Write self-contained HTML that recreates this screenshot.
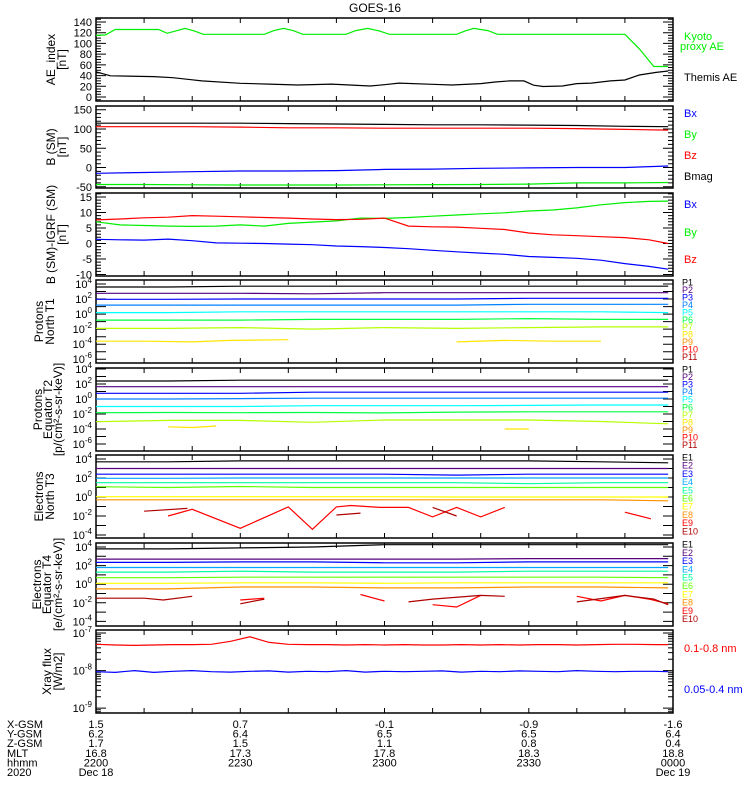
<!DOCTYPE html>
<html>
<head>
<meta charset="utf-8">
<title>GOES-16</title>
<style>
  html,body{margin:0;padding:0;background:#fff;}
  svg{display:block;font-family:"Liberation Sans",sans-serif;}
</style>
</head>
<body>
<svg id="chart" width="750" height="800" viewBox="0 0 750 800" xmlns="http://www.w3.org/2000/svg">
  <rect x="0" y="0" width="750" height="800" fill="#fff"/>
  <text x="375" y="12" font-size="12" text-anchor="middle">GOES-16</text>
  <g id="panels"></g>
</svg>
<script>
// ===== DATA (times in minutes after 2200 UT, Dec 18 2020) =====
// Panel 1: AE index [nT]
const kyotoT = [0,2,4,13,14.8,16.5,18.5,20.5,22.3,35,37,39,41,43,52,54,56.5,59,61,75,77,78.6,81.5,83.5,110,113,116,119];
const kyotoV = [115,116,126,126,119,123,128,123,117,117,124,128,124,117,117,124,128,123,117,117,124,128,124,117,117,90,57,57];
const themisT = [0,3,12,16,20,22,30,36,42,49,57,60,63,70,74,80,83,86,89,91,93,97,100,103,107,110,113,116.5,119];
const themisV = [47,39.5,38,36,32,30,25.5,24,22.4,24,20.5,23,26,23.7,22.4,25,28,30,30,22,19.5,20.5,25,26,30,31.7,41,46,48.5];
// Panel 2: B (SM) [nT]
const bT = [0,10,20,30,40,50,60,70,80,90,100,110,119];
const bxV = [-15,-13,-11,-9,-9,-8,-5,-4,-2,-1,0,0,4];
const byV = [-44,-44,-45,-45.5,-45.5,-45.5,-45,-44.5,-44,-43,-40,-40,-39];
const bzV = [106,106,106,105,103,103,102,102,102,102,101,99,97];
const bmagV = [115,115,115,115,114,113,112,111,111,110,109,107,106];
// Panel 3: B (SM) - IGRF (SM) [nT]
const dT = [0,5,10,15,20,25,30,35,40,45,50,55,60,65,70,75,80,85,90,95,100,105,110,115,119];
const dBxV = [1.35,1.2,1.1,1.4,0.9,0.2,0.1,0,-0.2,-0.4,-0.8,-1.0,-1.3,-1.7,-2.2,-2.7,-3.1,-3.5,-4.2,-4.5,-4.8,-5.4,-6.5,-7.4,-8.3];
const dByV = [7.0,6.0,5.8,5.6,5.5,5.6,6.0,5.6,6.5,6.9,7.3,8.2,8.1,8.4,8.8,9.2,9.6,9.9,10.5,10.8,11.5,12.5,13.2,13.6,13.7];
const dBzV = [7.6,7.9,8.3,8.5,9.0,8.8,8.6,8.4,8.2,7.9,7.7,7.8,8.2,5.6,5.4,5.3,4.9,4.5,3.4,2.8,2.5,2.2,1.9,1.2,0.0];
// Particle panels: log10 of flux
const fT = [0,15,30,45,60,75,90,105,119];
// Panel 4: Protons North T1
const t1P1 = [3.6,3.6,3.7,3.7,3.7,3.7,3.7,3.7,3.7];
const t1P2 = [2.76,2.76,2.76,2.7,2.84,2.84,2.84,2.84,2.84];
const t1P3 = [1.96,1.96,2.0,2.0,2.0,2.0,2.1,2.1,2.1];
const t1P4 = [1.2,1.2,1.2,1.2,1.2,1.2,1.3,1.3,1.3];
const t1P5 = [0.2,0.2,0.3,0.3,0.3,0.3,0.3,0.3,0.2];
const t1P6 = [-0.8,-0.8,-0.8,-0.7,-0.7,-0.7,-0.6,-0.7,-0.7];
const t1P7 = [-1.9,-1.9,-1.8,-2.0,-1.8,-1.9,-1.8,-1.7,-1.7];
const t1P8T = [0,10,20,28,40,41,75,85,95,105,106];
const t1P8 = [-3.6,-3.6,-3.7,-3.5,-3.4,null,-3.7,-3.5,-3.6,-3.6,null];
// Panel 5: Protons Equator T2
const t2P1 = [2.4,2.4,2.5,2.5,2.5,2.5,2.5,2.5,2.5];
const t2P2 = [1.64,1.64,1.64,1.64,1.64,1.64,1.64,1.64,1.64];
const t2P3 = [0.76,0.76,0.76,0.9,0.9,0.9,0.9,0.9,0.9];
const t2P4 = [0,0,0.05,0.1,0.1,0.1,0.1,0.1,0.1];
const t2P5 = [-1.0,-1.0,-1.0,-0.9,-0.9,-0.9,-0.85,-0.8,-0.8];
const t2P6 = [-1.83,-1.8,-1.83,-1.8,-1.85,-1.75,-1.7,-1.7,-1.7];
const t2P7 = [-3.03,-2.85,-2.85,-3.1,-2.8,-2.8,-2.8,-3.0,-3.3];
const t2P8T = [15,20,25,26,85,90];
const t2P8 = [-3.7,-3.8,-3.6,null,-4.0,-4.0];
// Panel 6: Electrons North T3
const t3E1 = [3.7,3.7,3.8,3.8,3.8,3.8,3.8,3.7,3.6];
const t3E2 = [3.0,3.0,3.0,3.0,3.0,3.0,3.0,3.0,3.0];
const t3E3 = [2.4,2.4,2.4,2.4,2.4,2.3,2.4,2.4,2.4];
const t3E4 = [1.97,1.97,2.0,2.0,2.0,2.0,2.0,2.0,2.0];
const t3E5 = [1.5,1.5,1.5,1.5,1.5,1.5,1.4,1.5,1.5];
const t3E6 = [1.08,1.0,1.1,1.0,1.0,1.0,1.0,1.0,1.0];
const t3E7 = [0.03,0.03,0.03,0.03,0.03,0.0,0.0,0.0,0.0];
const t3E8 = [-0.3,-0.3,-0.3,-0.3,-0.3,-0.3,-0.3,-0.3,-0.4];
const t3E9T = [15,20,30,40,45,50,53,59,65,70,75,80,85,100,110,115.4];
const t3E9 = [-2.0,-1.3,-3.3,-1.05,-3.4,-1.05,-0.9,-1.1,-1.1,-2.1,-1.1,-2.1,-1.1,null,-1.6,-2.3];
const t3E10T = [10,19,25,50,55,60,70,75];
const t3E10 = [-1.5,-1.2,null,-1.9,-1.7,null,-1.1,-2.0];
// Panel 7: Electrons Equator T4
const t4E1 = [3.8,3.8,3.9,4.0,4.25,4.25,4.25,4.25,4.25];
const t4E2 = [2.7,2.7,2.7,2.7,2.7,2.7,2.75,2.75,2.75];
const t4E3 = [2.35,2.35,2.4,2.4,2.3,2.3,2.4,2.4,2.4];
const t4E4 = [1.8,1.8,1.8,1.8,1.8,1.8,1.8,1.8,1.8];
const t4E5 = [1.3,1.3,1.4,1.3,1.3,1.3,1.4,1.4,1.4];
const t4E6 = [0.7,0.7,0.75,0.75,0.75,0.75,0.75,0.75,0.7];
const t4E7 = [0.1,0.1,0.15,0.15,0.1,0.15,0.15,0.15,0.15];
const t4E8 = [-0.5,-0.5,-0.3,-0.3,-0.4,-0.4,-0.3,-0.3,-0.4];
const t4E9T = [30,35,36,55,60,61,70,75,80,81,100,105,110,115,119];
const t4E9 = [-1.7,-1.5,null,-1.1,-1.8,null,-2.2,-2.45,-1.2,null,-1.3,-1.8,-1.2,-1.6,-2.1];
const t4E10T = [0,10,14,20,21,30,35,36,65,70,80,85,86,100,110,116,119];
const t4E10 = [-1.5,-1.5,-1.7,-1.3,null,-2.1,-1.6,null,-1.9,-1.6,-1.2,-1.3,null,-1.9,-1.2,-1.6,-2.2];
// Panel 8: X-ray flux, log10 W/m2
const xT = [0,4,8,12,16,20,24,28,32,36,40,44,48,52,56,60,64,68,72,76,80,84,88,92,96,100,104,108,112,116,119];
const xLongV = [-7.3,-7.32,-7.33,-7.32,-7.31,-7.31,-7.3,-7.22,-7.1,-7.25,-7.3,-7.31,-7.31,-7.32,-7.31,-7.32,-7.31,-7.32,-7.32,-7.31,-7.32,-7.31,-7.32,-7.31,-7.31,-7.32,-7.31,-7.3,-7.3,-7.31,-7.31];
const xShortV = [-8.03,-8.05,-8.0,-8.05,-8.02,-8.0,-8.03,-8.04,-8.02,-8.01,-8.04,-8.02,-8.03,-8.0,-8.04,-8.02,-8.03,-8.02,-8.01,-8.04,-8.02,-8.03,-8.01,-8.02,-8.03,-8.0,-8.02,-8.03,-8.02,-8.02,-8.03];
// Bottom annotation rows
const rowNames = ["X-GSM","Y-GSM","Z-GSM","MLT","hhmm","2020"];
const rowTimes = [0,30,60,90,120];
const xgsmVals = ["1.5","0.7","-0.1","-0.9","-1.6"];
const ygsmVals = ["6.2","6.4","6.5","6.5","6.4"];
const zgsmVals = ["1.7","1.5","1.1","0.8","0.4"];
const mltVals = ["16.8","17.3","17.8","18.3","18.8"];
const hhmmVals = ["2200","2230","2300","2330","0000"];
const dateVals = ["Dec 18","","","","Dec 19"];

// ===== LAYOUT =====
const NS = "http://www.w3.org/2000/svg";
const X0 = 96, X1 = 673, TMIN = 0, TMAX = 120;
function xs(t){ return X0 + (t - TMIN) / (TMAX - TMIN) * (X1 - X0); }
const root = document.getElementById('panels');
function mk(tag, attrs, parent){
  const e = document.createElementNS(NS, tag);
  for (const k in attrs) e.setAttribute(k, attrs[k]);
  (parent || root).appendChild(e);
  return e;
}
const panels = [
  {top:18, bot:101, vmin:-7.5, vmax:147.5, log:false, major:20, minor:5, labels:[0,20,40,60,80,100,120,140], titles:["AE_index","[nT]"], tx:[51,62]},
  {top:106, bot:188, vmin:-53.2, vmax:159.7, log:false, major:50, minor:10, labels:[-50,0,50,100,150], titles:["B (SM)","[nT]"], tx:[51,62]},
  {top:193, bot:276, vmin:-10.5, vmax:16.3, log:false, major:5, minor:1, labels:[-10,-5,0,5,10,15], titles:["B (SM)-IGRF (SM)","[nT]"], tx:[51,62]},
  {top:280, bot:363, vmin:-6.5, vmax:4.53, log:true, labels:[4,2,0,-2,-4,-6], titles:["Protons","North T1"], tx:[39,50]},
  {top:368, bot:451, vmin:-6.93, vmax:4.13, log:true, labels:[4,2,0,-2,-4,-6], titles:["Protons","Equator T2","[p/(cm\u00b2-s-sr-keV)]"], tx:[38,48,58]},
  {top:455, bot:538, vmin:-4.32, vmax:4.42, log:true, labels:[4,2,0,-2,-4], titles:["Electrons","North T3"], tx:[39,50]},
  {top:543, bot:626, vmin:-4.49, vmax:4.43, log:true, labels:[4,2,0,-2,-4], titles:["Electrons","Equator T4","[e/(cm\u00b2-s-sr-keV)]"], tx:[37,47,58]},
  {top:630, bot:713, vmin:-9.13, vmax:-6.92, log:true, minorLog:true, labels:[-7,-8,-9], titles:["Xray flux","[W/m2]"], tx:[47,58]}
];
function ys(p, v){ return p.bot - (v - p.vmin) / (p.vmax - p.vmin) * (p.bot - p.top); }

function drawSeries(pi, tArr, vArr, color, name){
  const p = panels[pi];
  let d = "", pen = false;
  for (let i = 0; i < tArr.length; i++){
    const v = vArr[i];
    if (v === null || v === undefined){ pen = false; continue; }
    const x = xs(tArr[i]).toFixed(1), y = Math.max(p.top, Math.min(p.bot, ys(p, v))).toFixed(1);
    d += (pen ? "L" : "M") + x + " " + y + " ";
    pen = true;
  }
  const path = mk('path', {d:d, fill:"none", stroke:color, "stroke-width":"1.2"});
  
  
}

// ===== AXES =====
panels.forEach((p, pi) => {
  const g = mk('g', {});
  
  
  let td = "";
  function ytick(v, len){
    const y = ys(p, v);
    if (y < p.top - 0.5 || y > p.bot + 0.5) return;
    td += "M" + X0 + " " + y.toFixed(1) + "h" + len + "M" + X1 + " " + y.toFixed(1) + "h" + (-len);
  }
  if (!p.log){
    for (let v = Math.ceil(p.vmin / p.minor) * p.minor; v <= p.vmax; v += p.minor){
      const isMaj = Math.abs(v / p.major - Math.round(v / p.major)) < 1e-6;
      ytick(v, isMaj ? 10 : 5);
    }
  } else {
    for (let e = Math.floor(p.vmin); e <= Math.ceil(p.vmax); e++){
      ytick(e, 10);
      if (p.minorLog){ for (let k = 2; k < 10; k++) ytick(e + Math.log10(k), 5); }
    }
  }
  for (let t = 0; t <= 120; t += 10){
    const x = xs(t).toFixed(1);
    td += "M" + x + " " + p.bot + "v-5M" + x + " " + p.top + "v5";
  }
  mk('path', {d:td, stroke:"#000", "stroke-width":"1", fill:"none"}, g);
  const fr = mk('rect', {x:X0, y:p.top, width:X1 - X0, height:p.bot - p.top, fill:"none", stroke:"#000", "stroke-width":"1.5"}, g);
  
  
  p.labels.forEach(v => {
    const y = ys(p, v);
    const tx = mk('text', {x:92, y:(y + 4).toFixed(1), "font-size":"11", "text-anchor":"end"}, g);
    
    
    if (p.log){
      tx.textContent = "10";
      const sup = mk('tspan', {dy:"-5", "font-size":"8"}, tx);
      sup.textContent = String(v);
    } else {
      tx.textContent = String(v);
    }
  });
  const cy = (p.top + p.bot) / 2;
  p.titles.forEach((s, i) => {
    const tt = mk('text', {x:p.tx[i], y:cy, "font-size":"12", "text-anchor":"middle", "dominant-baseline":"central", transform:"rotate(-90 " + p.tx[i] + " " + cy + ")"}, g);
    
    
    tt.textContent = s;
  });
});

// ===== SERIES =====
drawSeries(0, kyotoT, kyotoV, "#00ee00", "kyoto-proxy-ae-line");
drawSeries(0, themisT, themisV, "#000", "themis-ae-line");
drawSeries(1, bT, bmagV, "#000", "bmag-line");
drawSeries(1, bT, bzV, "#ff0000", "bz-line");
drawSeries(1, bT, bxV, "#0000ff", "bx-line");
drawSeries(1, bT, byV, "#00ee00", "by-line");
drawSeries(2, dT, dByV, "#00ee00", "dby-line");
drawSeries(2, dT, dBzV, "#ff0000", "dbz-line");
drawSeries(2, dT, dBxV, "#0000ff", "dbx-line");

const pColors = ["#000000","#55007f","#0000ff","#0080ff","#00ffff","#00ff40","#b4ff00","#ffe600","#ff8c00","#ff0000","#b00000"];
const eColors = ["#000000","#55007f","#0000ff","#00a8ff","#00ffa0","#60ff00","#ffff00","#ff9000","#ff0000","#b00000"];
[t1P1,t1P2,t1P3,t1P4,t1P5,t1P6,t1P7].forEach((a, i) => drawSeries(3, fT, a, pColors[i], "t1-p" + (i + 1) + "-line"));
drawSeries(3, t1P8T, t1P8, pColors[7], "t1-p8-line");
[t2P1,t2P2,t2P3,t2P4,t2P5,t2P6,t2P7].forEach((a, i) => drawSeries(4, fT, a, pColors[i], "t2-p" + (i + 1) + "-line"));
drawSeries(4, t2P8T, t2P8, pColors[7], "t2-p8-line");
[t3E1,t3E2,t3E3,t3E4,t3E5,t3E6,t3E7,t3E8].forEach((a, i) => drawSeries(5, fT, a, eColors[i], "t3-e" + (i + 1) + "-line"));
drawSeries(5, t3E9T, t3E9, eColors[8], "t3-e9-line");
drawSeries(5, t3E10T, t3E10, eColors[9], "t3-e10-line");
[t4E1,t4E2,t4E3,t4E4,t4E5,t4E6,t4E7,t4E8].forEach((a, i) => drawSeries(6, fT, a, eColors[i], "t4-e" + (i + 1) + "-line"));
drawSeries(6, t4E9T, t4E9, eColors[8], "t4-e9-line");
drawSeries(6, t4E10T, t4E10, eColors[9], "t4-e10-line");
drawSeries(7, xT, xLongV, "#ff0000", "xray-long-line");
drawSeries(7, xT, xShortV, "#0000ff", "xray-short-line");

// ===== LEGENDS =====
function label(x, y, s, color, size, name){
  const t = mk('text', {x:x, y:y, fill:color, "font-size":size});
  
  
  t.textContent = s;
}
label(684, 40, "Kyoto", "#00ee00", 11, "legend-kyoto");
label(680, 50, "proxy AE", "#00ee00", 11, "legend-proxy-ae");
label(684, 81, "Themis AE", "#000", 11, "legend-themis-ae");
label(684, 117, "Bx", "#0000ff", 11, "legend-bx");
label(684, 138, "By", "#00ee00", 11, "legend-by");
label(684, 159, "Bz", "#ff0000", 11, "legend-bz");
label(684, 180, "Bmag", "#000", 11, "legend-bmag");
label(684, 208, "Bx", "#0000ff", 11, "legend-dbx");
label(684, 236, "By", "#00ee00", 11, "legend-dby");
label(684, 263, "Bz", "#ff0000", 11, "legend-dbz");
for (let i = 0; i < 11; i++){
  label(682, 285.5 + i * 7.45, "P" + (i + 1), pColors[i], 9, "legend-t1-p" + (i + 1));
  label(682, 372.5 + i * 7.55, "P" + (i + 1), pColors[i], 9, "legend-t2-p" + (i + 1));
}
for (let i = 0; i < 10; i++){
  label(682, 460.5 + i * 8.2, "E" + (i + 1), eColors[i], 9, "legend-t3-e" + (i + 1));
  label(682, 547.5 + i * 8.3, "E" + (i + 1), eColors[i], 9, "legend-t4-e" + (i + 1));
}
label(684, 652, "0.1-0.8 nm", "#ff0000", 11, "legend-xray-long");
label(684, 693, "0.05-0.4 nm", "#0000ff", 11, "legend-xray-short");

// ===== BOTTOM ANNOTATION =====
const rowVals = [xgsmVals, ygsmVals, zgsmVals, mltVals, hhmmVals, dateVals];
rowNames.forEach((n, r) => {
  const y = 728 + r * 9.6;
  label(7, y, n, "#000", 11, "row-label-" + n.toLowerCase());
  rowVals[r].forEach((s, i) => {
    if (!s) return;
    const t = mk('text', {x:xs(rowTimes[i]).toFixed(1), y:y, "font-size":"11", "text-anchor":"middle"});
    
    
    t.textContent = s;
  });
});
</script>
</body>
</html>
